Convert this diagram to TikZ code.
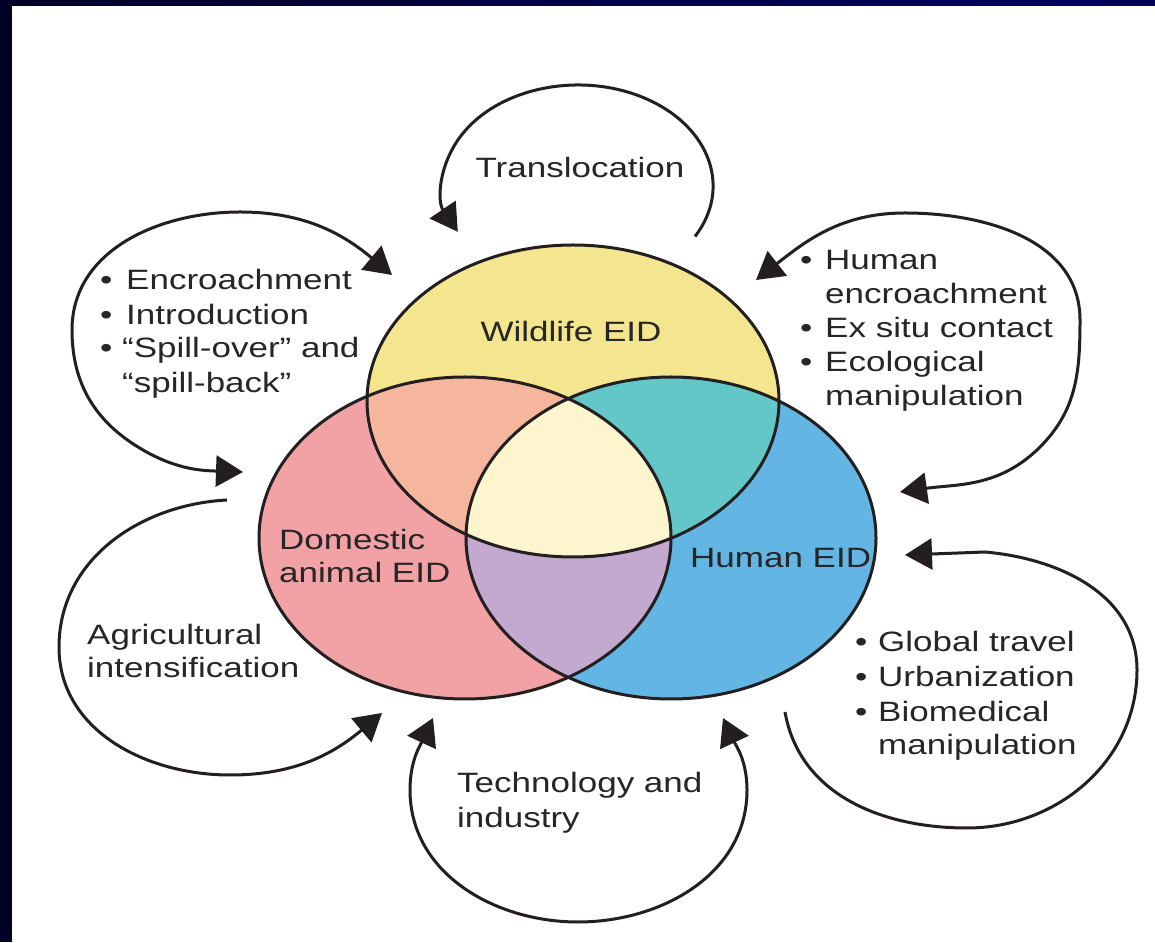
\documentclass[tikz,border=0pt]{standalone}
\usepackage{fontspec}
\setmainfont[FakeStretch=1.25]{Liberation Sans}
\usetikzlibrary{arrows.meta}
\definecolor{navyA}{RGB}{0,0,38}
\definecolor{navyB}{RGB}{0,0,92}
\definecolor{cYel}{RGB}{243,230,143}
\definecolor{cPink}{RGB}{242,161,165}
\definecolor{cBlue}{RGB}{99,182,227}
\definecolor{cOrange}{RGB}{245,182,157}
\definecolor{cTeal}{RGB}{99,198,199}
\definecolor{cPurple}{RGB}{196,169,207}
\definecolor{cCream}{RGB}{253,245,205}
\definecolor{ink}{RGB}{35,31,32}
\definecolor{txt}{RGB}{38,38,38}
\begin{document}
\begin{tikzpicture}[x=1pt,y=1pt,
  venn/.style={line width=3pt, draw=ink},
  loopline/.style={line width=3pt, draw=ink},
  headend/.style={-{Triangle[length=27pt,width=31pt]}},
  headboth/.style={{Triangle[length=27pt,width=31pt]}-{Triangle[length=27pt,width=31pt]}},
  lbl/.style={anchor=base west, inner sep=0pt, text=txt, font=\fontsize{28}{34}\selectfont},
  clbl/.style={lbl, anchor=base}
]
\useasboundingbox (0,0) rectangle (1155,942);
\fill[white] (0,0) rectangle (1155,942);
\fill[navyA] (0,0) rectangle (12,942);
\shade[left color=navyA, right color=navyB] (0,936) rectangle (1155,942);

% Venn centres
\coordinate (cW) at (573,541);
\coordinate (cD) at (465,404);
\coordinate (cH) at (671,404);

\fill[cYel] (cW) ellipse [x radius=206pt, y radius=156pt];
\fill[cPink] (cD) ellipse [x radius=206pt, y radius=161pt];
\fill[cBlue] (cH) ellipse [x radius=205pt, y radius=161pt];
\begin{scope}
  \clip (cD) ellipse [x radius=206pt, y radius=161pt];
  \fill[cPurple] (cH) ellipse [x radius=205pt, y radius=161pt];
\end{scope}
\begin{scope}
  \clip (cW) ellipse [x radius=206pt, y radius=156pt];
  \fill[cOrange] (cD) ellipse [x radius=206pt, y radius=161pt];
  \fill[cTeal] (cH) ellipse [x radius=205pt, y radius=161pt];
  \clip (cD) ellipse [x radius=206pt, y radius=161pt];
  \fill[cCream] (cH) ellipse [x radius=205pt, y radius=161pt];
\end{scope}
\draw[venn] (cW) ellipse [x radius=206pt, y radius=156pt];
\draw[venn] (cD) ellipse [x radius=206pt, y radius=161pt];
\draw[venn] (cH) ellipse [x radius=205pt, y radius=161pt];

\node[clbl] (wl) at (571,600) {Wildlife EID};
\node[lbl] (dl1) at (279,392) {Domestic};
\node[lbl] (dl2) at (279,359) {animal EID};
\node[lbl] (hl) at (690,374) {Human EID};

% Translocation loop
\coordinate (tS) at (695,705.5);
\draw[loopline, headend] (tS) arc[start angle=-30, end angle=207, x radius=135pt, y radius=101pt];
\node[clbl] (trans) at (580,764) {Translocation};

% Encroachment loop (double)
\coordinate (eB) at (243,470);
\coordinate (eP1) at (143,492);
\coordinate (eP2) at (72,612);
\coordinate (eP3) at (240,730);
\coordinate (eA) at (392,667);
\draw[loopline, headboth] (eB) to[out=178,in=-30] (eP1) to[out=150,in=-90] (eP2)
  to[out=90,in=180] (eP3) to[out=0,in=140] (eA);
\node[lbl] (eb1) at (100,652) {•};
\node[lbl] (et1) at (126,652) {Encroachment};
\node[lbl] (eb2) at (100,617) {•};
\node[lbl] (et2) at (126,617) {Introduction};
\node[lbl] (eb3) at (100,584) {•};
\node[lbl] (et3) at (122,584) {“Spill-over” and};
\node[lbl] (et4) at (122,549) {“spill-back”};

% Human encroachment loop (double)
\coordinate (hC) at (756,662);
\coordinate (hQ1) at (905,729);
\coordinate (hQ2) at (1080,622);
\coordinate (hQ3) at (1040,495);
\coordinate (hD) at (900,450);
\draw[loopline, headboth] (hC) to[out=38,in=180] (hQ1) to[out=0,in=90] (hQ2)
  to[out=-90,in=45] (hQ3) to[out=-135,in=8] (hD);
\node[lbl] (hb1) at (800,672) {•};
\node[lbl] (ht1) at (825,672) {Human};
\node[lbl] (ht2) at (825,638) {encroachment};
\node[lbl] (hb3) at (800,604) {•};
\node[lbl] (ht3) at (825,604) {Ex situ contact};
\node[lbl] (hb4) at (800,570) {•};
\node[lbl] (ht4) at (825,570) {Ecological};
\node[lbl] (ht5) at (825,536) {manipulation};

% Global travel loop
\coordinate (gS) at (785,230);
\coordinate (gB) at (967,114);
\coordinate (gR) at (1137,272);
\coordinate (gT) at (985,390);
\coordinate (gF) at (905,387);
\draw[loopline, headend] (gS) to[out=-80,in=180] (gB) to[out=0,in=-90] (gR)
  to[out=90,in=-5] (gT) -- (gF);
\node[lbl] (gb1) at (855,290) {•};
\node[lbl] (gt1) at (878,290) {Global travel};
\node[lbl] (gb2) at (855,255) {•};
\node[lbl] (gt2) at (878,255) {Urbanization};
\node[lbl] (gb3) at (855,220) {•};
\node[lbl] (gt3) at (878,220) {Biomedical};
\node[lbl] (gt4) at (878,187) {manipulation};

% Technology loop (double)
\coordinate (iL) at (433,224);
\coordinate (iLs) at (410,152);
\coordinate (iB) at (578,20);
\coordinate (iRs) at (747,152);
\coordinate (iR) at (723,224);
\draw[loopline, headboth] (iL) to[out=-115,in=90] (iLs) to[out=-90,in=180] (iB)
  to[out=0,in=-90] (iRs) to[out=90,in=-65] (iR);
\node[lbl] (it1) at (457,150) {Technology and};
\node[lbl] (it2) at (457,115) {industry};

% Agricultural loop
\coordinate (aS) at (227,442);
\coordinate (aL) at (59,295);
\coordinate (aB) at (230,167);
\coordinate (aT) at (382,229);
\draw[loopline, headend] (aS) to[out=183,in=90] (aL) to[out=-90,in=180] (aB)
  to[out=0,in=-140] (aT);
\node[lbl] (at1) at (87,297) {Agricultural};
\node[lbl] (at2) at (87,264) {intensification};
\end{tikzpicture}
\end{document}
